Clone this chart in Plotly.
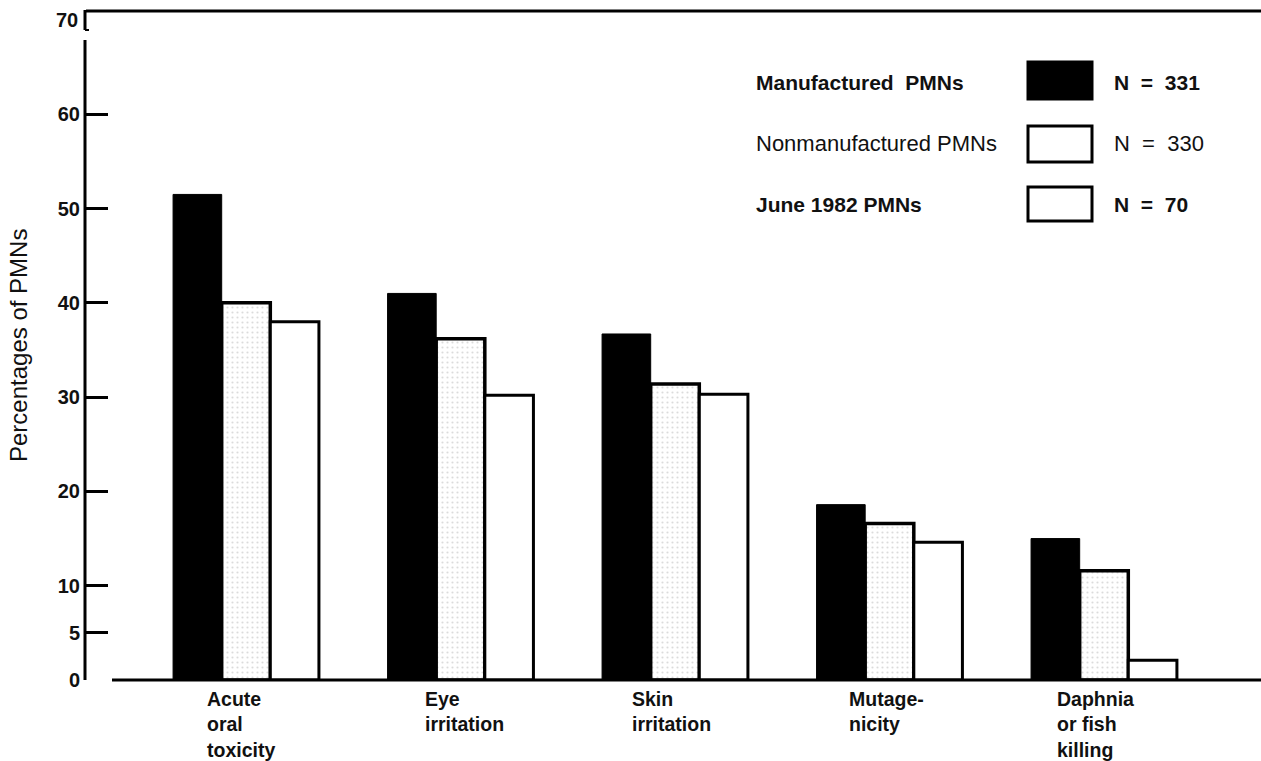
import plotly.graph_objects as go

# ---------------- data ----------------
categories = ["Acute oral toxicity", "Eye irritation", "Skin irritation",
              "Mutagenicity", "Daphnia or fish killing"]
category_labels = ["Acute<br>oral<br>toxicity", "Eye<br>irritation", "Skin<br>irritation",
                   "Mutage-<br>nicity", "Daphnia<br>or fish<br>killing"]
manufactured = [51.5, 41.0, 36.7, 18.6, 15.0]
nonmanufactured = [40.0, 36.2, 31.4, 16.6, 11.6]
june1982 = [38.0, 30.2, 30.3, 14.6, 2.1]
series_names = ["Manufactured  PMNs", "Nonmanufactured PMNs", "June 1982 PMNs"]
series_n = ["N  =  331", "N  =  330", "N  =  70"]
y_tickvals = [0, 5, 10, 20, 30, 40, 50, 60]
y_top_label = "70"
y_title = "Percentages of PMNs"

# ---------------- layout helpers ----------------
W, H = 1261, 761
L, R, T, B = 85, 0, 20, 81
PW, PH = W - L - R, H - T - B


def px(x):
    return (x - L) / PW


def py(y):
    return (H - B - y) / PH


FONT = "Liberation Sans, Arial, Helvetica, sans-serif"
INK = "#111111"

fig = go.Figure()
fig.add_trace(go.Bar(x=categories, y=manufactured, name=series_names[0],
                     marker=dict(color="#000000", line=dict(color="#000000", width=1))))
fig.add_trace(go.Bar(x=categories, y=nonmanufactured, name=series_names[1],
                     marker=dict(color="#ffffff", line=dict(color="#000000", width=3.5),
                                 pattern=dict(shape=".", fgcolor="#b8b8b8", bgcolor="#ffffff",
                                              size=5, solidity=0.15))))
fig.add_trace(go.Bar(x=categories, y=june1982, name=series_names[2],
                     marker=dict(color="#ffffff", line=dict(color="#000000", width=3))))

shapes = [
    # top frame line and bracket
    dict(type="line", xref="paper", yref="paper", x0=px(86), x1=px(1261), y0=py(11), y1=py(11),
         line=dict(color="#000", width=3)),
    dict(type="line", xref="paper", yref="paper", x0=px(85), x1=px(85), y0=py(10), y1=py(30),
         line=dict(color="#000", width=3)),
    dict(type="line", xref="paper", yref="paper", x0=px(85), x1=px(89), y0=py(30), y1=py(30),
         line=dict(color="#000", width=2)),
    # y axis line
    dict(type="line", xref="paper", yref="paper", x0=px(85), x1=px(85), y0=py(40), y1=py(680),
         line=dict(color="#000", width=3)),
    # baseline
    dict(type="line", xref="paper", yref="paper", x0=px(112), x1=px(1261), y0=py(680), y1=py(680),
         line=dict(color="#000", width=3)),
]

# legend boxes
legend_rows = [82, 143, 204]
legend_box = [(62, 99), (126, 162), (187, 221)]
legend_fill = ["#000000", "#ffffff", "#ffffff"]
for (y0, y1), fc in zip(legend_box, legend_fill):
    shapes.append(dict(type="rect", xref="paper", yref="paper",
                       x0=px(1028), x1=px(1092), y0=py(y0), y1=py(y1),
                       fillcolor=fc, line=dict(color="#000", width=3)))

annotations = []
legend_weights = ["bold", "normal", "bold"]
legend_sizes = [21, 22, 21]
for name, n, yy, wt, sz in zip(series_names, series_n, legend_rows, legend_weights, legend_sizes):
    annotations.append(dict(xref="paper", yref="paper", x=px(754), y=py(yy), xanchor="left",
                            yanchor="middle", showarrow=False,
                            text=name.replace(" ", "\u00a0"),
                            font=dict(family=FONT, size=sz, color=INK, weight=wt)))
    annotations.append(dict(xref="paper", yref="paper", x=px(1112), y=py(yy), xanchor="left",
                            yanchor="middle", showarrow=False,
                            text=n.replace(" ", "\u00a0"),
                            font=dict(family=FONT, size=sz, color=INK, weight=wt)))

# category labels (left aligned under each group)
label_xshift = [-41, -38, -45, -42, -49]
for i, (lab, sh) in enumerate(zip(category_labels, label_xshift)):
    annotations.append(dict(xref="x", yref="paper", x=i, y=py(686), xanchor="left",
                            yanchor="top", xshift=sh, align="left", showarrow=False,
                            text=lab, font=dict(family=FONT, size=19.5, color=INK, weight="bold")))

# top "70" label
annotations.append(dict(xref="paper", yref="y", x=px(80), y=70, xanchor="right", yanchor="middle",
                        showarrow=False, text=y_top_label,
                        font=dict(family=FONT, size=20, color=INK, weight="bold")))
# y title
annotations.append(dict(xref="paper", yref="paper", x=px(18), y=py(346), xanchor="center",
                        yanchor="middle", textangle=-90, showarrow=False, text=y_title,
                        font=dict(family=FONT, size=24, color=INK)))

fig.update_layout(
    width=W, height=H,
    margin=dict(l=L, r=R, t=T, b=B, autoexpand=False),
    paper_bgcolor="white", plot_bgcolor="white",
    barmode="group", bargap=0.32, bargroupgap=0,
    showlegend=False,
    shapes=shapes, annotations=annotations,
    xaxis=dict(range=[-0.7506, 4.732], showticklabels=False, ticks="", showline=False,
               showgrid=False, zeroline=False, fixedrange=True),
    yaxis=dict(range=[0, 70], tickvals=y_tickvals, ticktext=[str(v) for v in y_tickvals],
               ticks="inside", ticklen=23, tickwidth=3, tickcolor="#000",
               showline=False, showgrid=False, zeroline=False, ticklabelstandoff=4,
               tickfont=dict(family=FONT, size=20, color=INK, weight="bold")),
)

fig.write_html("out.html", config={"displayModeBar": False},
               post_script="document.body.style.margin='0';document.body.style.padding='0';")
